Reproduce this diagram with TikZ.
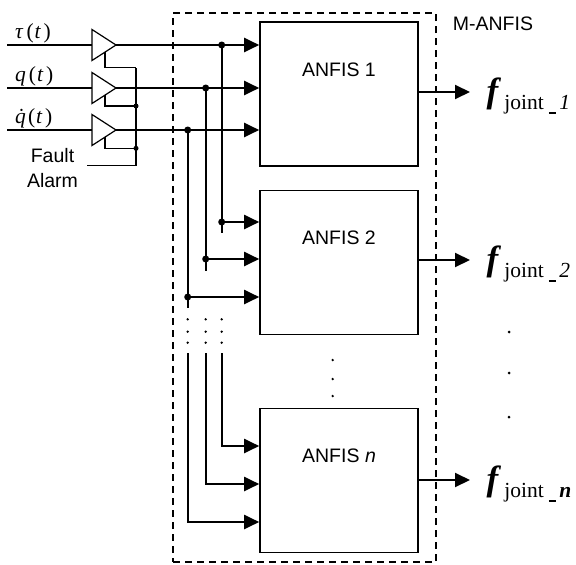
\RequirePackage{fix-cm}
\documentclass[tikz,border=0pt]{standalone}
\usepackage{fontspec}
\setsansfont{Liberation Sans}
\newfontfamily\tnr{Liberation Serif}
\usetikzlibrary{arrows.meta}
\newcommand{\fsub}[1]{{\tnr\fontsize{35}{35}\selectfont\bfseries\itshape f}\kern6pt\raisebox{-7pt}{\tnr\fontsize{21.5}{21.5}\selectfont joint\kern5pt\raisebox{-4.5pt}{\rule{7pt}{1.2pt}}\kern3.5pt#1}}
\begin{document}
\begin{tikzpicture}[x=1pt,y=-1pt,
 sig/.style={line width=2pt},
 thinsig/.style={line width=1.3pt},
 wire/.style={line width=1.5pt},
 arr/.style={-{Triangle[length=15pt,width=14pt]}},
 anfisbox/.style={draw, line width=1.6pt, minimum width=158pt, minimum height=144pt, inner sep=0pt},
 ampline/.style={draw, line width=1.2pt, fill=white, line join=miter},
 txt/.style={font=\sffamily\fontsize{19.5}{25}\selectfont, inner sep=0pt},
 mathlbl/.style={font=\tnr\fontsize{21.5}{21.5}\selectfont, inner sep=0pt, anchor=base west},
 flbl/.style={inner sep=0pt, anchor=base west},
 junc/.style={circle, fill, inner sep=0pt, minimum size=7pt},
 sjunc/.style={circle, fill, inner sep=0pt, minimum size=5pt},
 dotm/.style={circle, fill, inner sep=0pt, minimum size=2.6pt},
 rdot/.style={circle, fill, inner sep=0pt, minimum size=3pt},
 frame/.style={draw, dash pattern=on 7pt off 5pt, line width=1.5pt, inner sep=0pt}
]
\useasboundingbox (0,0) rectangle (576,565);
% dashed M-ANFIS frame
\node[frame, minimum width=263pt, minimum height=549pt] (mbox) at (304.5,287.5) {};
\node[txt] (mlbl) at (493,24.2) {M-ANFIS};

% ANFIS boxes
\node[anfisbox] (a1) at (339,94) {};
\node[anfisbox] (a2) at (339,262.5) {};
\node[anfisbox] (an) at (339,480.5) {};
\node[txt] (t1) at (339,69.5) {ANFIS 1};
\node[txt] (t2) at (339,238) {ANFIS 2};
\node[txt] (tn) at (339,456) {ANFIS \textit{n}};

% input labels
\node[mathlbl] (l1) at (15,38.5) {\textit{τ}\kern3pt(\kern1pt\textit{t}\kern2.5pt)};
\node[mathlbl] (l2) at (15,81) {\textit{q}\kern3pt(\kern1pt\textit{t}\kern2.5pt)};
\node[mathlbl] (l3) at (15,123) {\textit{q̇}\kern-4pt(\kern1pt\textit{t}\kern2.5pt)};

% input start points
\coordinate (s1) at (7,45);
\coordinate (s2) at (7,88);
\coordinate (s3) at (7,130);

% amplifiers (drawn directly)
\foreach \i/\yy in {1/45,2/88,3/130}{
  \coordinate (gw\i) at (92,\yy);
  \coordinate (ge\i) at (116,\yy);
  \coordinate (gs\i) at (105,\yy+7.1);
}
\draw[sig] (s1) -- (gw1);
\draw[thinsig] (s2) -- (gw2);
\draw[thinsig] (s3) -- (gw3);
\foreach \i/\yy in {1/45,2/88,3/130}{
  \draw[ampline] (92,\yy-15.5) -- (ge\i) -- (92,\yy+15.5) -- cycle;
}

% fault alarm wiring
\node[txt, align=center, anchor=north] (fal) at (52.5,148.5) {Fault\\Alarm};
\coordinate (fa0) at (87.3,165.3);
\coordinate (fa) at (136,165.3);
\coordinate (fa1) at (136,67.7);
\coordinate (fa2) at (136,106);
\coordinate (fa3) at (136,148.3);
\draw[wire] (fa0) -- (fa) -- (fa1);
\draw[wire] (gs1) |- (fa1);
\draw[wire] (gs2) |- (fa2);
\draw[wire] (gs3) |- (fa3);
\node[sjunc] (fd2) at (fa2) {};
\node[sjunc] (fd3) at (fa3) {};

% signals to ANFIS 1
\draw[sig,arr] (ge1) -- (a1.west |- ge1);
\draw[sig,arr] (ge2) -- (a1.west |- ge2);
\draw[sig,arr] (ge3) -- (a1.west |- ge3);

% taps
\node[junc] (d1) at (221.7,45) {};
\node[junc] (d2) at (205.7,88) {};
\node[junc] (d3) at (187.7,130) {};
\coordinate (e1) at (221.7,232.7);
\coordinate (e2) at (205.7,270.7);
\coordinate (e3) at (187.7,308);
\draw[sig] (d1.center) -- (e1);
\draw[sig] (d2.center) -- (e2);
\draw[sig] (d3.center) -- (e3);

% to ANFIS 2
\node[junc] (m1) at (221.7,222) {};
\node[junc] (m2) at (205.7,259) {};
\node[junc] (m3) at (187.7,297) {};
\draw[sig,arr] (m1.center) -- (a2.west |- m1.center);
\draw[sig,arr] (m2.center) -- (a2.west |- m2.center);
\draw[sig,arr] (m3.center) -- (a2.west |- m3.center);

% ellipsis dots in bus
\foreach \xx/\nm in {221.7/a,205.7/b,187.7/c}{
  \node[dotm] (v\nm1) at (\xx,319.3) {};
  \node[dotm] (v\nm2) at (\xx,331.7) {};
  \node[dotm] (v\nm3) at (\xx,342.7) {};
}

% to ANFIS n
\coordinate (p1) at (221.7,353);
\coordinate (p2) at (205.7,353);
\coordinate (p3) at (187.7,353);
\draw[sig,arr] (p1) |- (an.west |- 0,446);
\draw[sig,arr] (p2) |- (an.west |- 0,484);
\draw[sig,arr] (p3) |- (an.west |- 0,522);

% dots between boxes
\node[dotm] (c1) at (332.7,360) {};
\node[dotm] (c2) at (332.7,379) {};
\node[dotm] (c3) at (332.7,396) {};
\node[rdot] (r1) at (509,332) {};
\node[rdot] (r2) at (509,373) {};
\node[rdot] (r3) at (509,417) {};

% outputs
\coordinate (o1) at (470,92);
\coordinate (o2) at (470,260);
\coordinate (on) at (470,480);
\draw[sig,arr] (a1.east |- o1) -- (o1);
\draw[sig,arr] (a2.east |- o2) -- (o2);
\draw[sig,arr] (an.east |- on) -- (on);
\node[flbl] (f1) at (486.5,102) {\fsub{\textit{1}}};
\node[flbl] (f2) at (486.5,270) {\fsub{\textit{2}}};
\node[flbl] (fn) at (486.5,490) {\fsub{\textbf{\textit{n}}}};
\end{tikzpicture}
\end{document}
